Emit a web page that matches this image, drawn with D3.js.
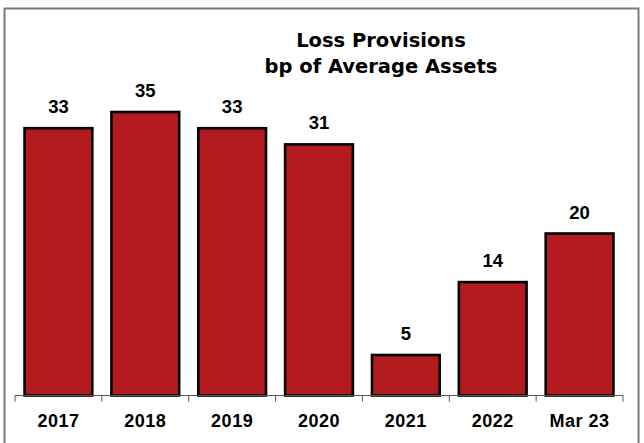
<!DOCTYPE html>
<html>
<head>
<meta charset="utf-8">
<script src="https://cdn.jsdelivr.net/npm/d3@7"></script>
<style>
  html, body { margin: 0; padding: 0; background: #fff; }
  svg { display: block; }
</style>
</head>
<body>
<svg id="chart" width="644" height="443"></svg>
<script>
// Loss provisions in basis points of average assets
const categories = ["2017", "2018", "2019", "2020", "2021", "2022", "Mar 23"];
const provisions = [33, 35, 33, 31, 5, 14, 20];
const titleLines = ["Loss Provisions", "bp of Average Assets"];

const svg = d3.select("#chart");

// outer frame
svg.append("rect")
  .attr("x", 4.5).attr("y", 8.5)
  .attr("width", 634).attr("height", 450)
  .attr("fill", "#fff")
  .attr("stroke", "#7a7a7a")
  .attr("stroke-width", 2);

const plot = { left: 15, right: 623, top: 71.5, bottom: 395.5 };

const x = d3.scaleBand()
  .domain(categories)
  .range([plot.left, plot.right])
  .paddingInner(0.22)
  .paddingOuter(0.11);

const y = d3.scaleLinear()
  .domain([0, 40])
  .range([plot.bottom, plot.top]);

// bars
svg.append("g").selectAll("rect")
  .data(categories)
  .join("rect")
  .attr("x", d => x(d))
  .attr("y", (d, i) => y(provisions[i]))
  .attr("width", x.bandwidth())
  .attr("height", (d, i) => y(0) - y(provisions[i]))
  .attr("fill", "#b31b1f")
  .attr("stroke", "#000")
  .attr("stroke-width", 2.6);

// value labels
svg.append("g").selectAll("text")
  .data(categories)
  .join("text")
  .attr("x", d => x(d) + x.bandwidth() / 2)
  .attr("y", (d, i) => y(provisions[i]) - 15)
  .attr("text-anchor", "middle")
  .attr("font-family", "'Liberation Sans', Arial, sans-serif")
  .attr("font-weight", "bold")
  .attr("font-size", 18.5)
  .attr("fill", "#000")
  .text((d, i) => provisions[i]);

// category axis: baseline with tick marks between categories
const bounds = d3.range(categories.length + 1)
  .map(i => plot.left + i * (plot.right - plot.left) / categories.length);
const axis = svg.append("g");
axis.append("line")
  .attr("x1", plot.left).attr("x2", plot.right)
  .attr("y1", plot.bottom).attr("y2", plot.bottom)
  .attr("stroke", "#555").attr("stroke-width", 1);
axis.selectAll("line.tick")
  .data(bounds)
  .join("line")
  .attr("class", "tick")
  .attr("x1", d => d).attr("x2", d => d)
  .attr("y1", plot.bottom).attr("y2", plot.bottom + 6)
  .attr("stroke", "#555").attr("stroke-width", 1);
axis.selectAll("text")
  .data(categories)
  .join("text")
  .attr("x", d => x(d) + x.bandwidth() / 2)
  .attr("y", 427)
  .attr("text-anchor", "middle")
  .attr("font-family", "'Liberation Sans', Arial, sans-serif")
  .attr("font-weight", "bold")
  .attr("font-size", 18)
  .attr("letter-spacing", 0.5)
  .attr("fill", "#000")
  .text(d => d);

// title
svg.append("g").selectAll("text")
  .data(titleLines)
  .join("text")
  .attr("x", 381)
  .attr("y", (d, i) => 47 + i * 26)
  .attr("text-anchor", "middle")
  .attr("font-family", "'DejaVu Sans', sans-serif")
  .attr("font-weight", "bold")
  .attr("font-size", 19.5)
  .attr("fill", "#000")
  .text(d => d);
</script>
</body>
</html>
